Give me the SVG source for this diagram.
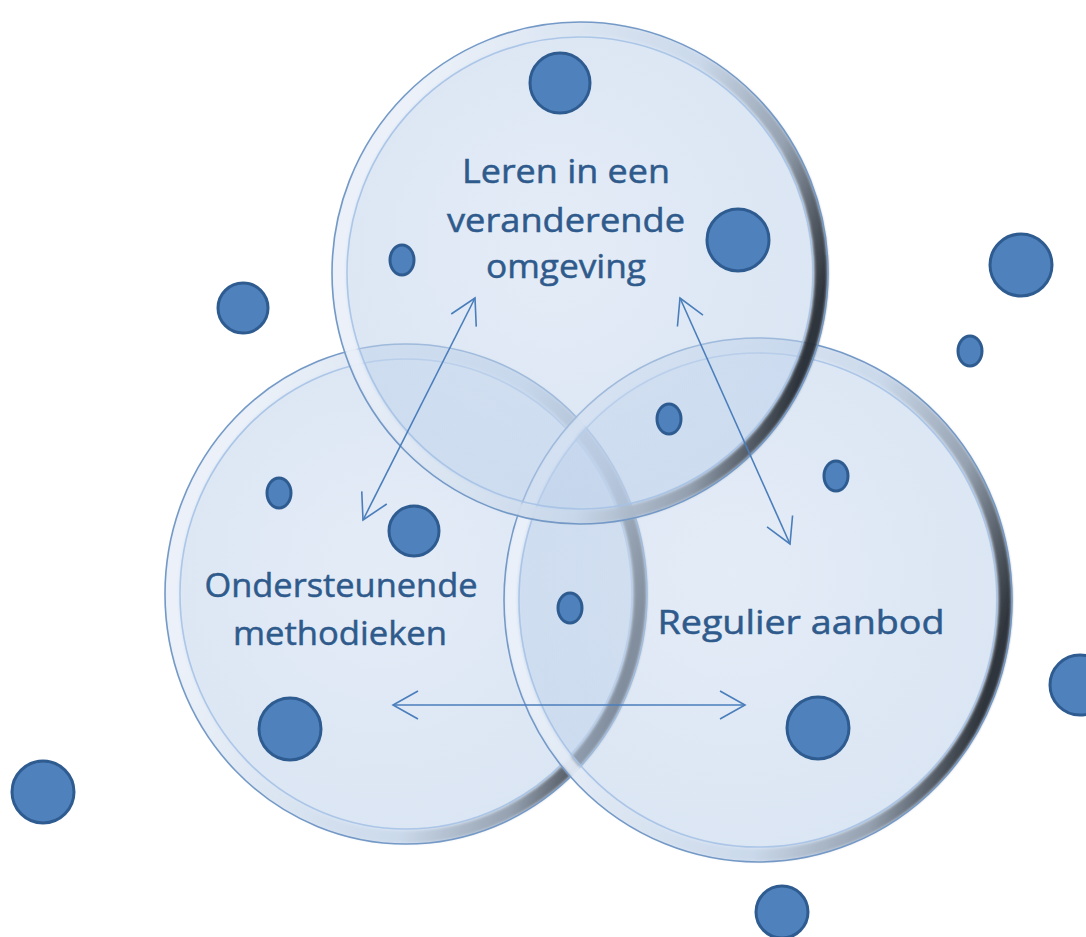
<svg xmlns="http://www.w3.org/2000/svg" width="1086" height="937" viewBox="0 0 1086 937">
<style>
.fill{fill:url(#body);fill-opacity:0.55}
.band{fill:none;stroke:url(#rim);stroke-width:13;opacity:0.9;filter:url(#soft)}
.edge{fill:none;stroke:#7499c6;stroke-width:1.6}
.inner{fill:none;stroke:#a6c2e6;stroke-width:1.6;opacity:0.9}
.dot{fill:#4f81bd;stroke:#2f5c90;stroke-width:3}
.lbl{font-family:"Open Sans","Liberation Sans",sans-serif;font-size:33px;fill:#2f5a8c;stroke:#2f5a8c;stroke-width:0.5;text-anchor:middle}
.con{fill:none;stroke:#4a7ebb;stroke-width:1.6;marker-start:url(#ah);marker-end:url(#ah)}
</style>
<defs>
<radialGradient id="body" cx="0.45" cy="0.45" r="0.6">
<stop offset="0" stop-color="#cddcef"/>
<stop offset="1" stop-color="#bcd0ea"/>
</radialGradient>
<linearGradient id="rim" x1="0.1" y1="0.3" x2="1" y2="0.55">
<stop offset="0" stop-color="#eef3fa"/>
<stop offset="0.6" stop-color="#c9d8ea"/>
<stop offset="0.83" stop-color="#8e9aa9"/>
<stop offset="1" stop-color="#1e2329"/>
</linearGradient>
<filter id="soft" x="-5%" y="-5%" width="110%" height="110%"><feGaussianBlur stdDeviation="1.5"/></filter>
<marker id="ah" viewBox="-1 -1 28 30" refX="25" refY="14" markerWidth="28" markerHeight="30" markerUnits="userSpaceOnUse" orient="auto-start-reverse">
<path d="M0,0 L25,14 L0,28" fill="none" stroke="#4a7ebb" stroke-width="1.6"/>
</marker>
</defs>
<rect width="1086" height="937" fill="#ffffff"/>
<g id="node-left">
<ellipse class="fill" cx="406" cy="594" rx="241" ry="250"/>
<ellipse class="band" cx="406" cy="594" rx="234" ry="243"/>
<ellipse class="edge" cx="406" cy="594" rx="241" ry="250"/>
<ellipse class="inner" cx="406" cy="594" rx="226" ry="235"/>
</g>
<g id="node-right">
<ellipse class="fill" cx="758" cy="600" rx="254" ry="262"/>
<ellipse class="band" cx="758" cy="600" rx="247" ry="255"/>
<ellipse class="edge" cx="758" cy="600" rx="254" ry="262"/>
<ellipse class="inner" cx="758" cy="600" rx="239" ry="247"/>
</g>
<g id="node-top">
<ellipse class="fill" cx="580" cy="273" rx="248" ry="251"/>
<ellipse class="band" cx="580" cy="273" rx="241" ry="244"/>
<ellipse class="edge" cx="580" cy="273" rx="248" ry="251"/>
<ellipse class="inner" cx="580" cy="273" rx="233" ry="236"/>
</g>
<g id="dots">
<circle class="dot" cx="560" cy="83" r="30"/>
<circle class="dot" cx="738" cy="240" r="31"/>
<ellipse class="dot" cx="402" cy="260" rx="12" ry="15"/>
<circle class="dot" cx="1021" cy="265" r="31"/>
<circle class="dot" cx="243" cy="308" r="25"/>
<ellipse class="dot" cx="970" cy="351" rx="12" ry="15"/>
<ellipse class="dot" cx="669" cy="419" rx="12" ry="15"/>
<ellipse class="dot" cx="836" cy="476" rx="12" ry="15"/>
<ellipse class="dot" cx="279" cy="493" rx="12" ry="15"/>
<circle class="dot" cx="414" cy="531" r="25"/>
<ellipse class="dot" cx="570" cy="608" rx="12" ry="15"/>
<circle class="dot" cx="290" cy="729" r="31"/>
<circle class="dot" cx="818" cy="728" r="31"/>
<circle class="dot" cx="43" cy="792" r="31"/>
<circle class="dot" cx="1080" cy="685" r="30"/>
<circle class="dot" cx="782" cy="912" r="26"/>
</g>
<g id="connectors">
<path class="con" d="M475,298 L363,520"/>
<path class="con" d="M680,298 L790,544"/>
<path class="con" d="M393,705 L745,705"/>
</g>
<g id="labels">
<text class="lbl" x="566" y="183" textLength="208" lengthAdjust="spacingAndGlyphs">Leren in een</text>
<text class="lbl" x="566" y="232" textLength="238" lengthAdjust="spacingAndGlyphs">veranderende</text>
<text class="lbl" x="566" y="278" textLength="160" lengthAdjust="spacingAndGlyphs">omgeving</text>
<text class="lbl" x="341" y="597" textLength="273" lengthAdjust="spacingAndGlyphs">Ondersteunende</text>
<text class="lbl" x="340" y="645" textLength="214" lengthAdjust="spacingAndGlyphs">methodieken</text>
<text class="lbl" x="801" y="634" textLength="287" lengthAdjust="spacingAndGlyphs">Regulier aanbod</text>
</g>
</svg>
